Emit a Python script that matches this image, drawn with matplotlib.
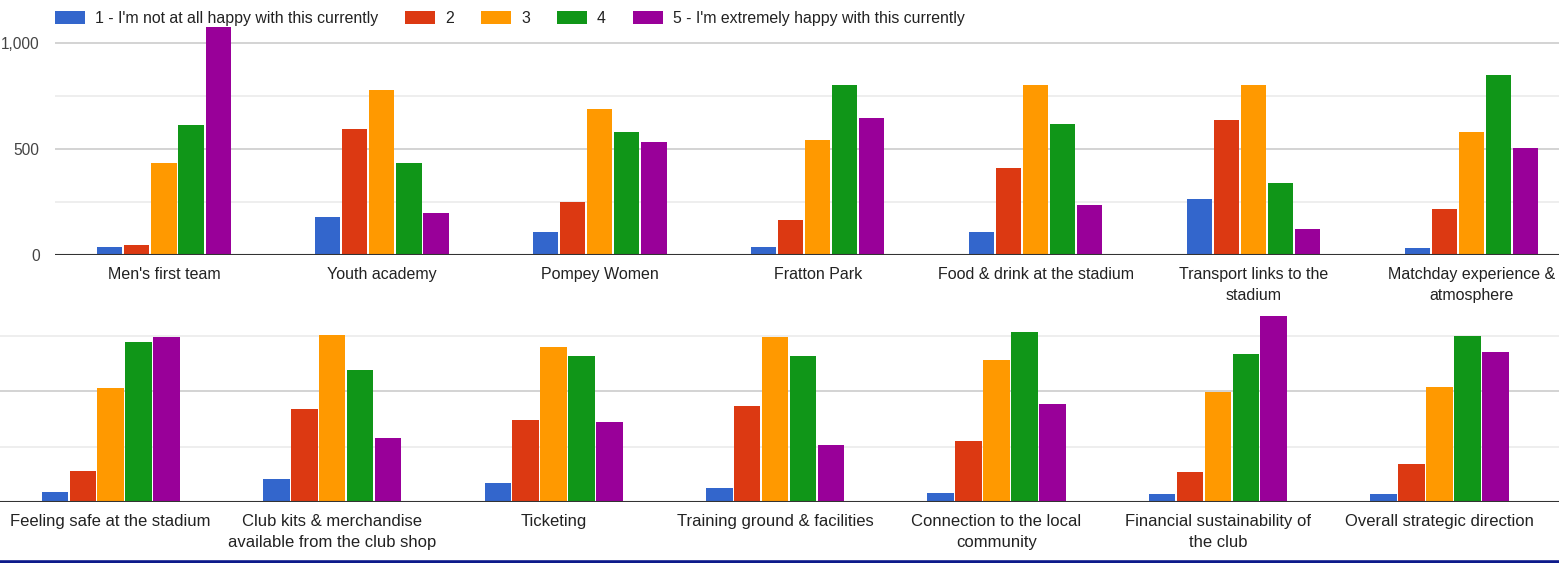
import numpy as np
import matplotlib.pyplot as plt
from matplotlib.ticker import MultipleLocator, FuncFormatter

series = [
    "1 - I'm not at all happy with this currently",
    "2",
    "3",
    "4",
    "5 - I'm extremely happy with this currently",
]
colors = ["#3366cc", "#dc3912", "#ff9900", "#109618", "#990099"]

top_labels = [
    "Men's first team",
    "Youth academy",
    "Pompey Women",
    "Fratton Park",
    "Food & drink at the stadium",
    "Transport links to the\nstadium",
    "Matchday experience &\natmosphere",
]
# one list per rating, in category order
top_1 = [39, 179, 108, 38, 108, 263, 33]
top_2 = [47, 594, 250, 165, 409, 638, 218]
top_3 = [434, 778, 690, 542, 803, 803, 582]
top_4 = [613, 434, 580, 803, 619, 338, 850]
top_5 = [1075, 198, 535, 645, 237, 123, 505]

bottom_labels = [
    "Feeling safe at the stadium",
    "Club kits & merchandise\navailable from the club shop",
    "Ticketing",
    "Training ground & facilities",
    "Connection to the local\ncommunity",
    "Financial sustainability of\nthe club",
    "Overall strategic direction",
]
bottom_1 = [45, 102, 84, 65, 39, 35, 35]
bottom_2 = [142, 422, 370, 434, 274, 136, 173]
bottom_3 = [515, 756, 699, 744, 642, 497, 521]
bottom_4 = [724, 598, 661, 661, 768, 667, 750]
bottom_5 = [744, 288, 363, 256, 444, 839, 679]

top_values = [top_1, top_2, top_3, top_4, top_5]
bottom_values = [bottom_1, bottom_2, bottom_3, bottom_4, bottom_5]

plt.rcParams['font.family'] = ['Liberation Sans', 'DejaVu Sans']

W, H = 1559, 563
fig = plt.figure(figsize=(W / 100, H / 100), dpi=100)


def draw(ax, labels, values, step, width, fs):
    x = np.arange(len(labels))
    bars = []
    for k, vals in enumerate(values):
        b = ax.bar(x + (k - 2) * step, vals, width, color=colors[k], zorder=3)
        bars.append(b)
    ax.set_xticks(x)
    ax.set_xticklabels(labels, fontsize=fs, color="#222222", linespacing=1.55)
    ax.tick_params(axis="x", length=0, pad=8.5)
    ax.yaxis.set_major_locator(MultipleLocator(500))
    ax.yaxis.set_minor_locator(MultipleLocator(250))
    ax.grid(axis="y", which="major", color="#cccccc", linewidth=1.2, zorder=0)
    ax.grid(axis="y", which="minor", color="#ebebeb", linewidth=1.2, zorder=0)
    ax.tick_params(axis="y", which="both", length=0)
    ax.axhline(0, color="#333333", linewidth=1.5, zorder=4)
    for s in ax.spines.values():
        s.set_visible(False)
    return bars


# top panel
ax1 = fig.add_axes([55 / W, 1 - 255 / H, 1 - 55 / W, 255 / H])
bars = draw(ax1, top_labels, top_values, 0.124, 0.115, 11.5)
ax1.set_xlim(-0.5, 6.4)
ax1.set_ylim(0, 1203)
ax1.yaxis.set_major_formatter(FuncFormatter(lambda v, p: f"{int(v):,}"))
ax1.tick_params(axis="y", labelsize=11.2, labelcolor="#444444", pad=11)

# bottom panel (no y labels visible)
ax2 = fig.add_axes([0, 1 - 502 / H, 1, 197 / H])
draw(ax2, bottom_labels, bottom_values, 0.126, 0.12, 12)
ax2.set_xlim(-0.5, 6.54)
ax2.set_ylim(0, 890)
ax2.tick_params(axis="y", labelleft=False)

fig.legend(
    bars, series, loc="upper left", bbox_to_anchor=(55 / W, 1 - 11 / H),
    ncol=5, frameon=False, fontsize=11.4, borderpad=0, borderaxespad=0,
    handlelength=1.9, handleheight=0.9, handletextpad=0.63, columnspacing=1.7,
    labelcolor="#222222",
)

# dark strip along the bottom edge of the screenshot
fig.add_artist(plt.Line2D([0, 1], [1.5 / H, 1.5 / H], color="#0d1a8a", linewidth=2.6))

fig.savefig("out.png", dpi=100, facecolor="white")
